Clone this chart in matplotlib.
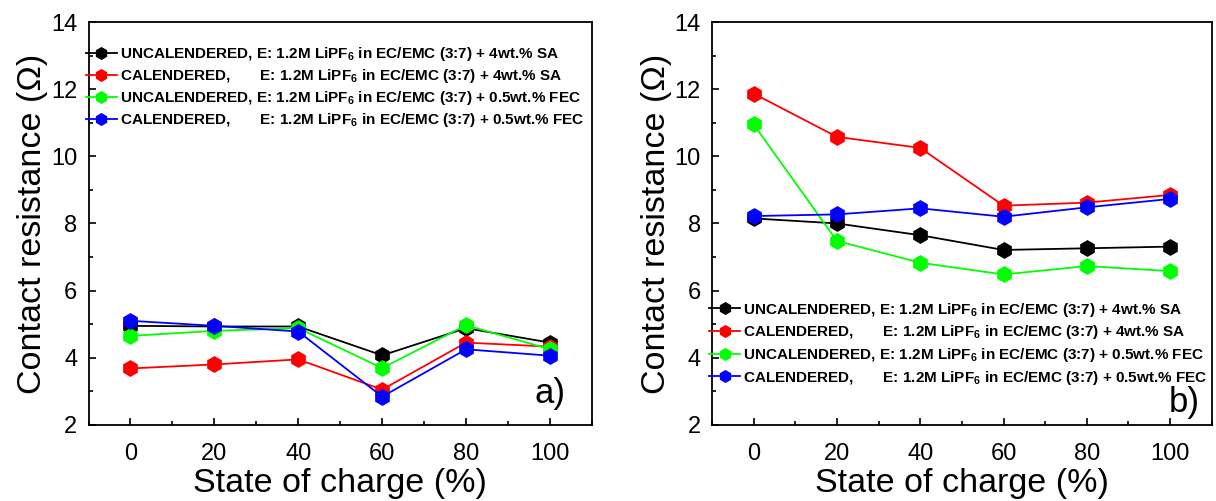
import matplotlib
matplotlib.use('Agg')
import matplotlib.pyplot as plt
from matplotlib.ticker import MultipleLocator

plt.rcParams['font.family'] = ['Liberation Sans', 'DejaVu Sans']

# state of charge (%)
soc = [0, 20, 40, 60, 80, 100]

# panel a) contact resistance (Ohm)
a_uncal_sa = [4.95, 4.93, 4.93, 4.07, 4.88, 4.45]
a_cal_sa = [3.68, 3.80, 3.95, 3.05, 4.45, 4.33]
a_uncal_fec = [4.65, 4.80, 4.88, 3.69, 4.97, 4.25]
a_cal_fec = [5.10, 4.95, 4.78, 2.84, 4.25, 4.06]

# panel b) contact resistance (Ohm)
b_uncal_sa = [8.15, 8.00, 7.65, 7.21, 7.26, 7.31]
b_cal_sa = [11.87, 10.58, 10.25, 8.53, 8.62, 8.85]
b_uncal_fec = [10.95, 7.48, 6.83, 6.48, 6.73, 6.58]
b_cal_fec = [8.22, 8.27, 8.45, 8.20, 8.48, 8.73]

labels = [
    'UNCALENDERED, E: 1.2M LiPF$_{\\mathregular{6}}$ in EC/EMC (3:7) + 4wt.% SA',
    'CALENDERED,       E: 1.2M LiPF$_{\\mathregular{6}}$ in EC/EMC (3:7) + 4wt.% SA',
    'UNCALENDERED, E: 1.2M LiPF$_{\\mathregular{6}}$ in EC/EMC (3:7) + 0.5wt.% FEC',
    'CALENDERED,       E: 1.2M LiPF$_{\\mathregular{6}}$ in EC/EMC (3:7) + 0.5wt.% FEC',
]
colors = ['black', '#ff0000', '#00ff00', '#0000ff']

fig = plt.figure(figsize=(12.16, 5.01), dpi=100)
ax1 = fig.add_axes([0.0728, 0.152, 0.414, 0.804])
ax2 = fig.add_axes([0.5855, 0.152, 0.411, 0.804])

panels = [
    (ax1, [a_uncal_sa, a_cal_sa, a_uncal_fec, a_cal_fec], 'a)', (0.947, 0.079), 0.943, 0.27),
    (ax2, [b_uncal_sa, b_cal_sa, b_uncal_fec, b_cal_fec], 'b)', (0.976, 0.055), 0.308, 0.30),
]

for ax, series, tag, tagpos, legtop, lspace in panels:
    for y, c, lab in zip(series, colors, labels):
        ax.plot(soc, y, color=c, linewidth=1.3, marker='h', markersize=11,
                markeredgecolor=c, label=lab)
    ax.set_xlim(-10, 110)
    ax.set_ylim(2, 14)
    ax.xaxis.set_major_locator(MultipleLocator(20))
    ax.xaxis.set_minor_locator(MultipleLocator(10))
    ax.yaxis.set_major_locator(MultipleLocator(2))
    ax.yaxis.set_minor_locator(MultipleLocator(1))
    ax.tick_params(which='both', direction='in', top=False, right=False,
                   labelsize=17, width=1.2)
    ax.tick_params(axis='y', which='major', length=5, pad=8)
    ax.tick_params(axis='x', which='major', length=5, pad=13)
    ax.tick_params(which='minor', length=3)
    for s in ax.spines.values():
        s.set_linewidth(1.3)
    ax.set_xlabel('State of charge (%)', fontsize=24.5, labelpad=2)
    ax.set_ylabel('Contact resistance (\u03a9)', fontsize=24.5, labelpad=2)
    ax.text(tagpos[0], tagpos[1], tag, transform=ax.transAxes, fontsize=25,
            ha='right', va='center')
    ax.legend(loc='upper left', bbox_to_anchor=(-0.005, legtop), frameon=False,
              borderpad=0, borderaxespad=0, handlelength=2.0, handletextpad=0.2,
              labelspacing=lspace, markerscale=0.75,
              prop={'family': ['Liberation Sans Narrow', 'Liberation Sans'],
                    'weight': 'bold', 'size': 11})

fig.savefig('out.png', dpi=100)
